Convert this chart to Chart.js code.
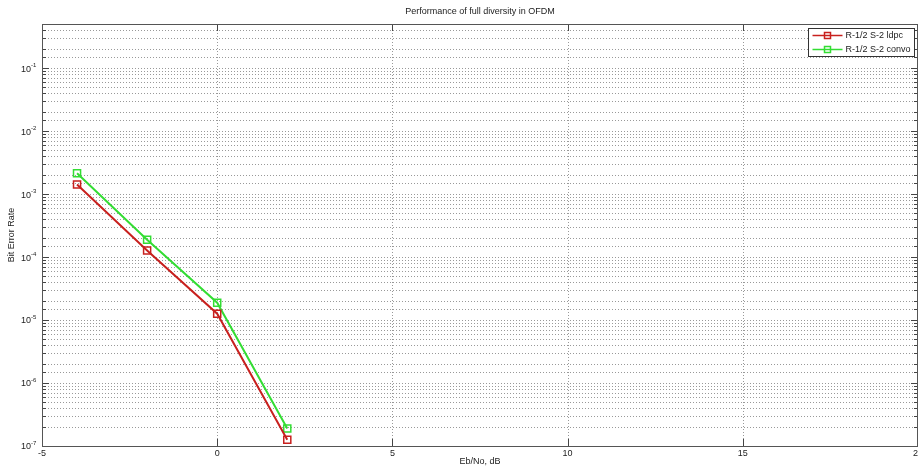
<!DOCTYPE html>
<html>
<head>
<meta charset="utf-8">
<script src="https://cdn.jsdelivr.net/npm/chart.js@4.4.1/dist/chart.umd.min.js"></script>
<style>
	html, body { margin: 0; padding: 0; background: #fff; }
	#wrap { width: 918px; height: 468px; }
</style>
</head>
<body>
<div id="wrap"><canvas id="ber" width="918" height="468"></canvas></div>
<script>
(function () {
	'use strict';

	// Eb/No (dB) a BER z obrázku
	var ebno      = [-4, -2, 0, 2];
	var berLdpc   = [1.42e-3, 1.27e-4, 1.26e-5, 1.26e-7];
	var berConvo  = [2.13e-3, 1.88e-4, 1.88e-5, 1.89e-7];
	var xTicks    = [-5, 0, 5, 10, 15, 20];
	var yDecades  = [-7, -6, -5, -4, -3, -2, -1];
	var seriesNames = ['R-1/2 S-2 ldpc', 'R-1/2 S-2 convo'];

	var FONT = '"Liberation Sans", Arial, sans-serif';
	var RED = '#c8201e';
	var GREEN = '#33dd33';

	function pts(ys) {
		return ebno.map(function (x, i) { return { x: x, y: ys[i] }; });
	}

	function isDecade(v) {
		var l = Math.log10(v);
		return Math.abs(l - Math.round(l)) < 1e-6;
	}

	var matlabAxes = {
		id: 'matlabAxes',
		beforeDatasetsDraw: function (chart) {
			var c = chart.ctx, a = chart.chartArea;
			var xs = chart.scales.x, ys = chart.scales.y;
			c.save();
			c.lineWidth = 1;
			c.strokeStyle = '#999';
			c.setLineDash([1, 2]);
			// svislá mřížka
			xTicks.forEach(function (v) {
				var px = Math.round(xs.getPixelForValue(v)) + 0.5;
				if (px <= a.left + 1 || px >= a.right - 1) return;
				c.beginPath(); c.moveTo(px, a.top); c.lineTo(px, a.bottom); c.stroke();
			});
			// vodorovná mřížka (dekády i minor)
			ys.ticks.forEach(function (t) {
				var py = Math.round(ys.getPixelForValue(t.value)) + 0.5;
				if (py <= a.top + 1 || py >= a.bottom - 1) return;
				c.beginPath(); c.moveTo(a.left, py); c.lineTo(a.right, py); c.stroke();
			});
			c.setLineDash([]);
			c.strokeStyle = '#444';
			// tick marks dovnitř
			xTicks.forEach(function (v) {
				var px = Math.round(xs.getPixelForValue(v)) + 0.5;
				c.beginPath();
				c.moveTo(px, a.bottom); c.lineTo(px, a.bottom - 7);
				c.moveTo(px, a.top); c.lineTo(px, a.top + 7);
				c.stroke();
			});
			ys.ticks.forEach(function (t) {
				var py = Math.round(ys.getPixelForValue(t.value)) + 0.5;
				var len = isDecade(t.value) ? 7 : 4;
				c.beginPath();
				c.moveTo(a.left, py); c.lineTo(a.left + len, py);
				c.moveTo(a.right, py); c.lineTo(a.right - len, py);
				c.stroke();
			});
			// rámeček
			c.strokeStyle = '#555';
			c.strokeRect(Math.round(a.left) + 0.5, Math.round(a.top) + 0.5,
				Math.round(a.right - a.left) - 1, Math.round(a.bottom - a.top));
			c.restore();
		},
		afterDraw: function (chart) {
			var c = chart.ctx, a = chart.chartArea;
			var xs = chart.scales.x, ys = chart.scales.y;
			c.save();
			c.fillStyle = '#222';
			// popisky osy x
			c.font = '9px ' + FONT;
			c.textAlign = 'center';
			c.textBaseline = 'top';
			xTicks.forEach(function (v) {
				c.fillText(String(v), xs.getPixelForValue(v), a.bottom + 3);
			});
			// popisky osy y 10^n
			yDecades.forEach(function (d) {
				var py = ys.getPixelForValue(Math.pow(10, d));
				c.font = '9px ' + FONT;
				c.textAlign = 'right';
				c.textBaseline = 'middle';
				c.fillText('10', 31, py + 1);
				c.font = '6px ' + FONT;
				c.textAlign = 'left';
				c.fillText(String(d), 31, py - 3);
			});
			// titulek a názvy os
			c.font = '9px ' + FONT;
			c.textAlign = 'center';
			c.textBaseline = 'middle';
			c.fillText('Performance of full diversity in OFDM', (a.left + a.right) / 2, 12);
			c.fillText('Eb/No, dB', (a.left + a.right) / 2, 462);
			c.save();
			c.translate(12, (a.top + a.bottom) / 2);
			c.rotate(-Math.PI / 2);
			c.fillText('Bit Error Rate', 0, 0);
			c.restore();
			// legenda
			var lx = 808.5, ly = 28.5, lw = 106, lh = 28;
			c.fillStyle = '#fff';
			c.fillRect(lx, ly, lw, lh);
			c.strokeStyle = '#333';
			c.lineWidth = 1;
			c.strokeRect(lx, ly, lw, lh);
			chart.data.datasets.forEach(function (ds, i) {
				var yy = ly + 7 + i * 14;
				c.strokeStyle = ds.borderColor;
				c.lineWidth = 1.5;
				c.beginPath(); c.moveTo(lx + 4, yy); c.lineTo(lx + 34, yy); c.stroke();
				c.strokeRect(lx + 16, yy - 3, 6, 6);
				c.fillStyle = '#222';
				c.font = '9px ' + FONT;
				c.textAlign = 'left';
				c.textBaseline = 'middle';
				c.fillText(ds.label, lx + 37, yy + 0.5);
			});
			c.restore();
		}
	};

	function dataset(label, ys, color) {
		return {
			label: label,
			data: pts(ys),
			borderColor: color,
			backgroundColor: 'rgba(0,0,0,0)',
			borderWidth: 2,
			pointStyle: 'rect',
			pointRadius: 5,
			pointBorderWidth: 1.5,
			pointBorderColor: color,
			pointBackgroundColor: 'rgba(0,0,0,0)',
			tension: 0,
			fill: false
		};
	}

	new Chart(document.getElementById('ber'), {
		type: 'line',
		data: {
			datasets: [
				dataset(seriesNames[0], berLdpc, RED),
				dataset(seriesNames[1], berConvo, GREEN)
			]
		},
		options: {
			responsive: false,
			animation: false,
			events: [],
			layout: { autoPadding: false, padding: { top: 24, right: 0, left: 0, bottom: 0 } },
			plugins: {
				legend: { display: false },
				title: { display: false },
				tooltip: { enabled: false }
			},
			scales: {
				x: {
					type: 'linear',
					min: -5,
					max: 20,
					grid: { display: false },
					border: { display: false },
					ticks: { display: false, stepSize: 5 },
					afterFit: function (s) { s.height = 22; }
				},
				y: {
					type: 'logarithmic',
					min: 1e-7,
					max: 0.5,
					grid: { display: false },
					border: { display: false },
					ticks: { display: false },
					afterFit: function (s) { s.width = 42; }
				}
			}
		},
		plugins: [matlabAxes]
	});
}());
</script>
</body>
</html>
